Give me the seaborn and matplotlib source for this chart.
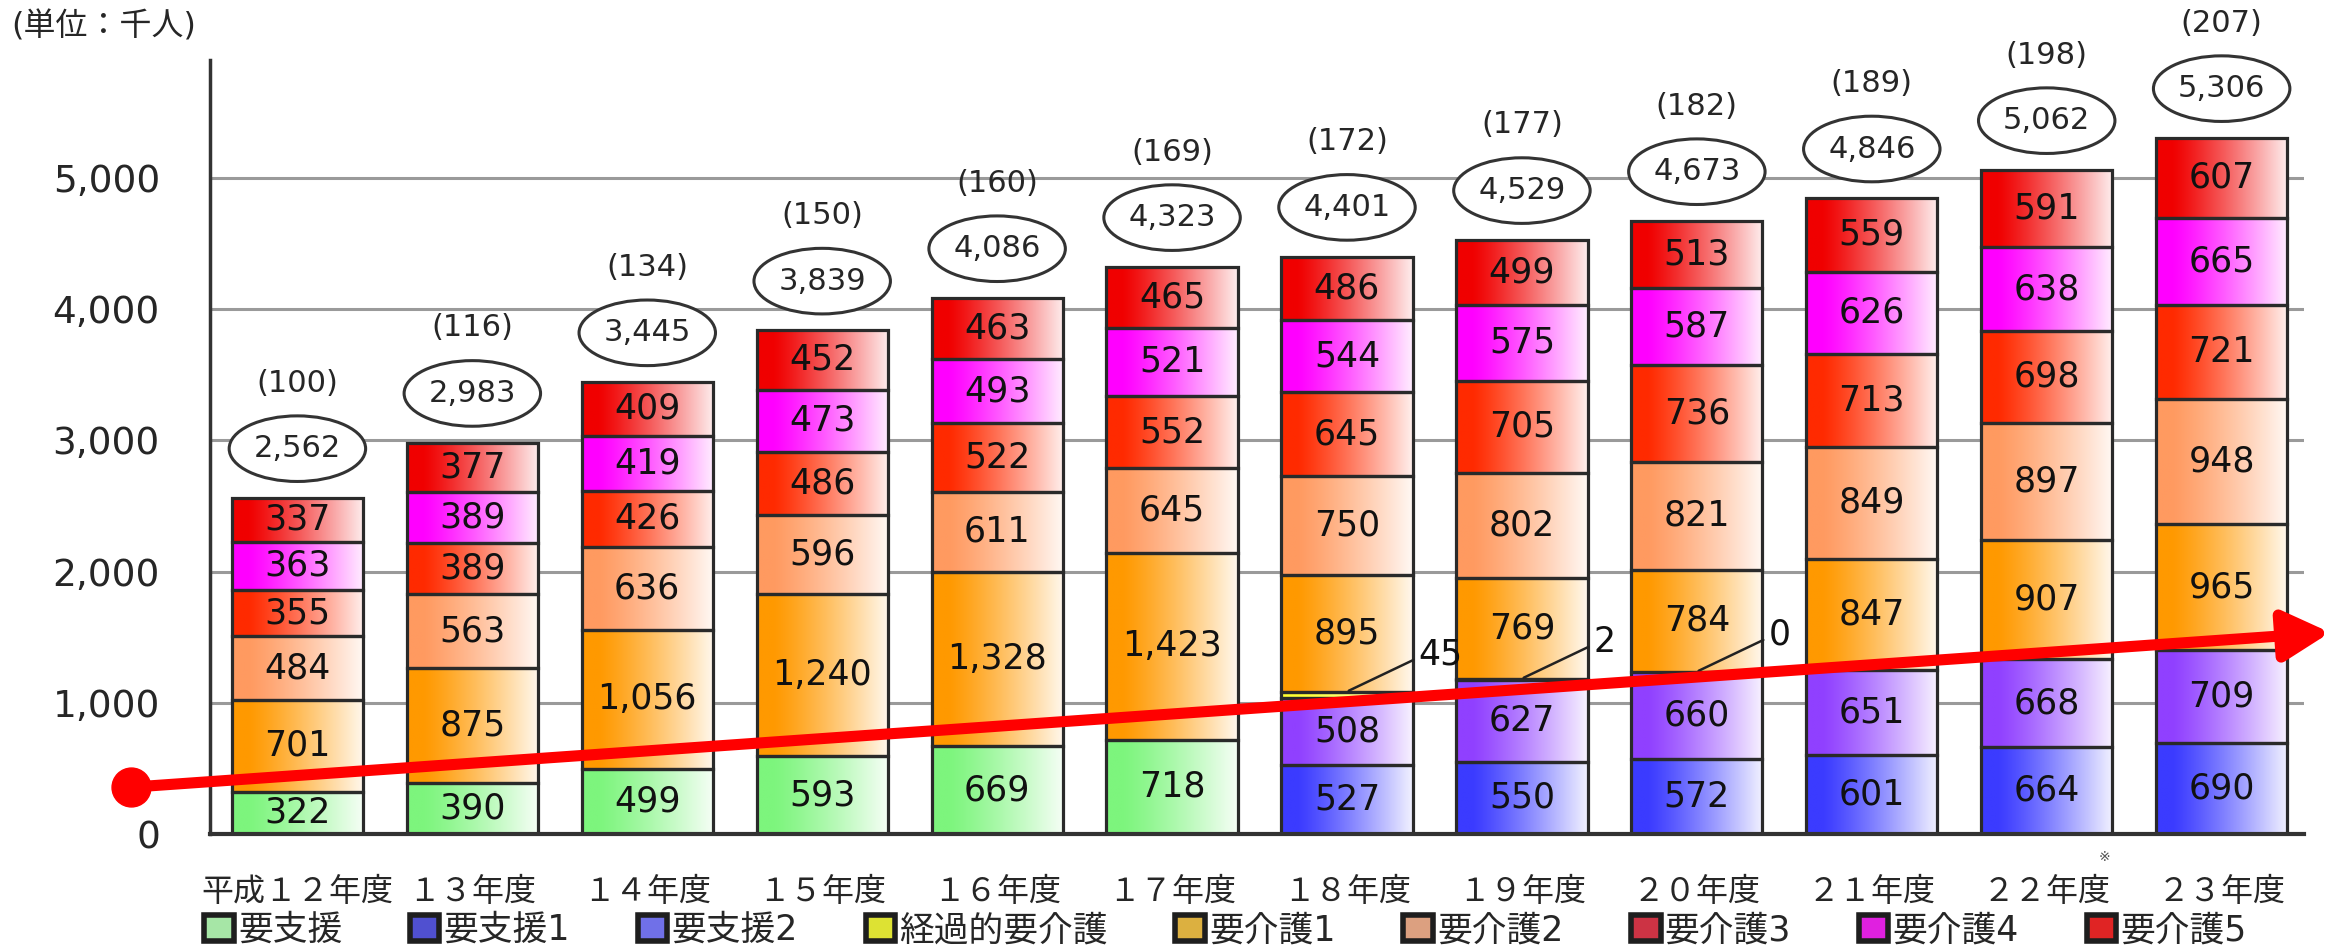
import numpy as np
import pandas as pd
import matplotlib
matplotlib.use("Agg")
import matplotlib.pyplot as plt
import seaborn as sns
from matplotlib.colors import to_rgb
from matplotlib.patches import Ellipse, Patch
from matplotlib.transforms import blended_transform_factory

# 年度ごとの要介護（要支援）認定者数（単位：千人）
years = ["平成１２年度", "１３年度", "１４年度", "１５年度", "１６年度", "１７年度",
         "１８年度", "１９年度", "２０年度", "２１年度", "２２年度", "２３年度"]
totals = [2562, 2983, 3445, 3839, 4086, 4323, 4401, 4529, 4673, 4846, 5062, 5306]
index_vals = [100, 116, 134, 150, 160, 169, 172, 177, 182, 189, 198, 207]

youshien = [322, 390, 499, 593, 669, 718, 0, 0, 0, 0, 0, 0]
youshien1 = [0, 0, 0, 0, 0, 0, 527, 550, 572, 601, 664, 690]
youshien2 = [0, 0, 0, 0, 0, 0, 508, 627, 660, 651, 668, 709]
keikateki = [0, 0, 0, 0, 0, 0, 45, 2, 0, 0, 0, 0]
kaigo1 = [701, 875, 1056, 1240, 1328, 1423, 895, 769, 784, 847, 907, 965]
kaigo2 = [484, 563, 636, 596, 611, 645, 750, 802, 821, 849, 897, 948]
kaigo3 = [355, 389, 426, 486, 522, 552, 645, 705, 736, 713, 698, 721]
kaigo4 = [363, 389, 419, 473, 493, 521, 544, 575, 587, 626, 638, 665]
kaigo5 = [337, 377, 409, 452, 463, 465, 486, 499, 513, 559, 591, 607]

series_names = ["要支援", "要支援1", "要支援2", "経過的要介護", "要介護1",
                "要介護2", "要介護3", "要介護4", "要介護5"]
series_values = [youshien, youshien1, youshien2, keikateki, kaigo1,
                 kaigo2, kaigo3, kaigo4, kaigo5]
series_colors = ["#7df57d", "#3b3bff", "#9040ff", "#ffff33", "#ff9900",
                 "#ff9a60", "#ff2a00", "#ff00ff", "#f00000"]
legend_colors = ["#a6e6a6", "#5050d0", "#7070e8", "#dde233", "#dcb040",
                 "#dca080", "#cc3344", "#e020e0", "#e02424"]
y_ticks = [0, 1000, 2000, 3000, 4000, 5000]

sns.set_style("white")
plt.rcParams["font.family"] = ["DejaVu Sans", "Noto Sans CJK JP"]

fig = plt.figure(figsize=(23.43, 9.51), dpi=100)
ax = fig.add_axes([0.0896, 0.123, 0.8937, 0.814])


def gradient_fill(patch, color):
    x, y = patch.get_x(), patch.get_y()
    w, h = patch.get_width(), patch.get_height()
    t = np.linspace(0, 1, 120)
    mix = (np.clip((t - 0.12) / 0.88, 0, 1) ** 1.2 * 0.93)[:, None]
    rgb = np.array(to_rgb(color)) * (1 - mix) + mix
    ax.imshow(rgb[None, :, :], extent=[x, x + w, y, y + h], aspect="auto",
              interpolation="bilinear", zorder=1.5)
    patch.set_facecolor("none")
    patch.set_zorder(2)


bottom = np.zeros(len(years))
keika_top = None
for name, vals, color in zip(series_names, series_values, series_colors):
    vals = np.array(vals)
    df = pd.DataFrame({"year": years, "value": vals})
    n0 = len(ax.patches)
    sns.barplot(data=df, x="year", y="value", order=years, bottom=bottom,
                color=color, width=0.75, errorbar=None, edgecolor="#2a2a2a",
                linewidth=2.3, saturation=1, ax=ax)
    for i, (p, v) in enumerate(zip(ax.patches[n0:], vals)):
        if v > 0:
            gradient_fill(p, color)
            if name != "経過的要介護":
                ax.text(i, bottom[i] + v / 2, f"{v:,}", ha="center", va="center",
                        fontsize=25, color="#111111", zorder=3)
    if name == "経過的要介護":
        keika_top = bottom + vals
    bottom = bottom + vals

# 経過的要介護の引き出し線
for i, v in enumerate(keikateki):
    if youshien1[i] > 0 and i <= 8:
        x0, y0 = i + 0.01, keika_top[i] + 12
        x1, y1 = x0 + 0.37, y0 + 235
        ax.plot([x0, x1], [y0, y1], color="#222222", lw=1.8, zorder=3)
        ax.text(x1 + 0.03, y1 + 40, f"{v}", ha="left", va="center",
                fontsize=25, color="#111111", zorder=3)

# 合計（楕円）と指数
for i, (tot, idx) in enumerate(zip(totals, index_vals)):
    ax.add_patch(Ellipse((i, tot + 375), width=0.78, height=500, facecolor="white",
                         edgecolor="#333333", lw=2.2, zorder=3, clip_on=False))
    ax.text(i, tot + 375, f"{tot:,}", ha="center", va="center", fontsize=22,
            zorder=4, clip_on=False)
    ax.text(i, tot + 875, f"({idx})", ha="center", va="center", fontsize=22,
            zorder=4, clip_on=False)

# 赤い矢印
ax.annotate("", xy=(11.62, 1536), xytext=(-0.95, 357),
            arrowprops=dict(arrowstyle="-|>,head_length=0.7,head_width=0.38",
                            color="#ff0000", lw=8, mutation_scale=40,
                            shrinkA=0, shrinkB=0),
            annotation_clip=False, zorder=6)
ax.plot([-0.95], [357], "o", color="#ff0000", markersize=28, clip_on=False, zorder=6)

ax.set_xlim(-0.5, 11.47)
ax.set_ylim(0, 5900)
ax.set_yticks(y_ticks)
ax.set_yticklabels([f"{v:,}" for v in y_ticks], fontsize=27)
ax.set_xticks(range(len(years)))
ax.set_xticklabels(years, fontsize=23)
ax.set_xticks(np.arange(0.5, 11, 1), minor=True)
ax.tick_params(axis="y", length=0, pad=36)
ax.tick_params(axis="x", which="major", length=0, pad=31)
ax.tick_params(axis="x", which="minor", length=9, width=2, color="#444444", direction="out")
ax.set_xlabel("")
ax.set_ylabel("")
ax.yaxis.grid(True, color="#9a9a9a", linewidth=2.2)
ax.xaxis.grid(False)
ax.set_axisbelow(True)
for s in ["top", "right"]:
    ax.spines[s].set_visible(False)
ax.spines["left"].set_color("#333333")
ax.spines["left"].set_linewidth(2.5)
ax.spines["bottom"].set_color("#333333")
ax.spines["bottom"].set_linewidth(3)

ax.text(10.33, -0.03, "※", transform=blended_transform_factory(ax.transData, ax.transAxes),
        fontsize=10, ha="center", va="center", color="#555555")

fig.text(0.005, 0.972, "(単位：千人)", fontsize=23, va="center", ha="left")

handles = [Patch(facecolor=c, edgecolor="#1e1e1e", linewidth=4, joinstyle="round")
           for c in legend_colors]
fig.legend(handles, series_names, loc="center", bbox_to_anchor=(0.523, 0.022), ncol=9,
           frameon=False, fontsize=25, handlelength=0.85, handleheight=0.75,
           handletextpad=0.12, columnspacing=1.95)

fig.savefig("out.png", dpi=100)
